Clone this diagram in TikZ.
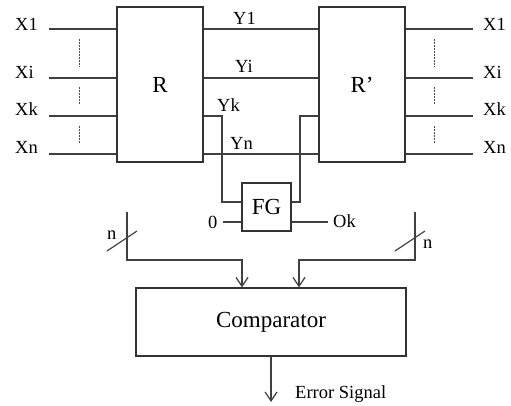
\documentclass[tikz,border=0pt]{standalone}
\usepackage{fontspec}
\setmainfont{Liberation Serif}
\usetikzlibrary{arrows.meta,calc}

\tikzset{
  wire/.style={line width=1.2pt, draw=black!75},
  blk/.style={draw=black!80, line width=1.2pt, inner sep=0pt, font=\fontsize{23}{26}\selectfont},
  lbl/.style={anchor=base west, inner sep=0pt, font=\fontsize{18.5}{20}\selectfont},
  dots/.style={dash pattern=on 2pt off 1pt, draw=black!70, line width=0.8pt},
  arr/.style={-{Straight Barb[length=9pt,width=12pt]}}
}

\begin{document}
\begin{tikzpicture}[x=1pt,y=-1pt]
\useasboundingbox (0,0) rectangle (511,406);

% blocks
\node[blk, minimum width=86pt, minimum height=155pt] (R) at (160,84.5) {R};
\node[blk, minimum width=86pt, minimum height=155pt] (Rp) at (362,84.5) {R’};
\node[blk, minimum width=49pt, minimum height=48pt] (FG) at (266.5,207) {FG};
\node[blk, minimum width=270pt, minimum height=68pt] (cmp) at (271,322) {Comparator};

% rows
\coordinate (row1) at (0,29);
\coordinate (rowi) at (0,78);
\coordinate (rowk) at (0,116);
\coordinate (rown) at (0,154);

% inputs of R
\node[lbl] (x1) at (15,31) {X1};
\node[lbl] (xi) at (15,79) {Xi};
\node[lbl] (xk) at (15,116) {Xk};
\node[lbl] (xn) at (15,154) {Xn};
\coordinate (a1) at (49,29);
\coordinate (ai) at (49,78);
\coordinate (ak) at (49,116);
\coordinate (an) at (49,154);
\draw[wire] (a1) -- (a1 -| R.west);
\draw[wire] (ai) -- (ai -| R.west);
\draw[wire] (ak) -- (ak -| R.west);
\draw[wire] (an) -- (an -| R.west);
\draw[dots] (79,39) -- (79,67);
\draw[dots] (79,87) -- (79,105);
\draw[dots] (79,126) -- (79,143);

% outputs of R'
\node[lbl] (z1) at (483,31) {X1};
\node[lbl] (zi) at (483,79) {Xi};
\node[lbl] (zk) at (483,116) {Xk};
\node[lbl] (zn) at (483,154) {Xn};
\coordinate (b1) at (473,29);
\coordinate (bi) at (473,78);
\coordinate (bk) at (473,116);
\coordinate (bn) at (473,154);
\draw[wire] (Rp.east |- row1) -- (b1);
\draw[wire] (Rp.east |- rowi) -- (bi);
\draw[wire] (Rp.east |- rowk) -- (bk);
\draw[wire] (Rp.east |- rown) -- (bn);
\draw[dots] (434,39) -- (434,67);
\draw[dots] (434,87) -- (434,105);
\draw[dots] (434,126) -- (434,143);

% Y lines
\draw[wire] (R.east |- row1) -- (Rp.west |- row1);
\draw[wire] (R.east |- rowi) -- (Rp.west |- rowi);
\draw[wire] (R.east |- rown) -- (Rp.west |- rown);
\node[lbl] (y1) at (233,25) {Y1};
\node[lbl] (yi) at (235,73) {Yi};
\node[lbl] (yk) at (217,112) {Yk};
\node[lbl] (yn) at (230,150) {Yn};

% FG
\coordinate (fgin) at (0,202);
\coordinate (fglo) at (0,222);
\draw[wire] (R.east |- rowk) -- (222,116) -- (222,202) -- (FG.west |- fgin);
\draw[wire] (Rp.west |- rowk) -- (300,116) -- (300,202) -- (FG.east |- fgin);
\node[lbl] (zero) at (208,229) {0};
\node[lbl] (ok) at (333,227) {Ok};
\draw[wire] (223,222) -- (FG.west |- fglo);
\draw[wire] (FG.east |- fglo) -- (328,222);

% buses
\coordinate (busl) at (127,212);
\coordinate (busr) at (415,212);
\coordinate (inl) at (242,260);
\coordinate (inr) at (299,260);
\draw[wire,arr] (busl) |- (inl) -- (inl |- cmp.north);
\draw[wire,arr] (busr) |- (inr) -- (inr |- cmp.north);
\draw[wire] (busl) ++(-20,39) -- ++(30,-20);
\draw[wire] (busr) ++(-20,39) -- ++(30,-20);
\node[lbl] (nl) at (107,239) {n};
\node[lbl] (nr) at (423,248) {n};

% output
\coordinate (err) at (271,402);
\draw[wire,arr] (cmp.south) -- (err);
\node[lbl] (errlbl) at (295,398) {Error Signal};
\end{tikzpicture}
\end{document}
